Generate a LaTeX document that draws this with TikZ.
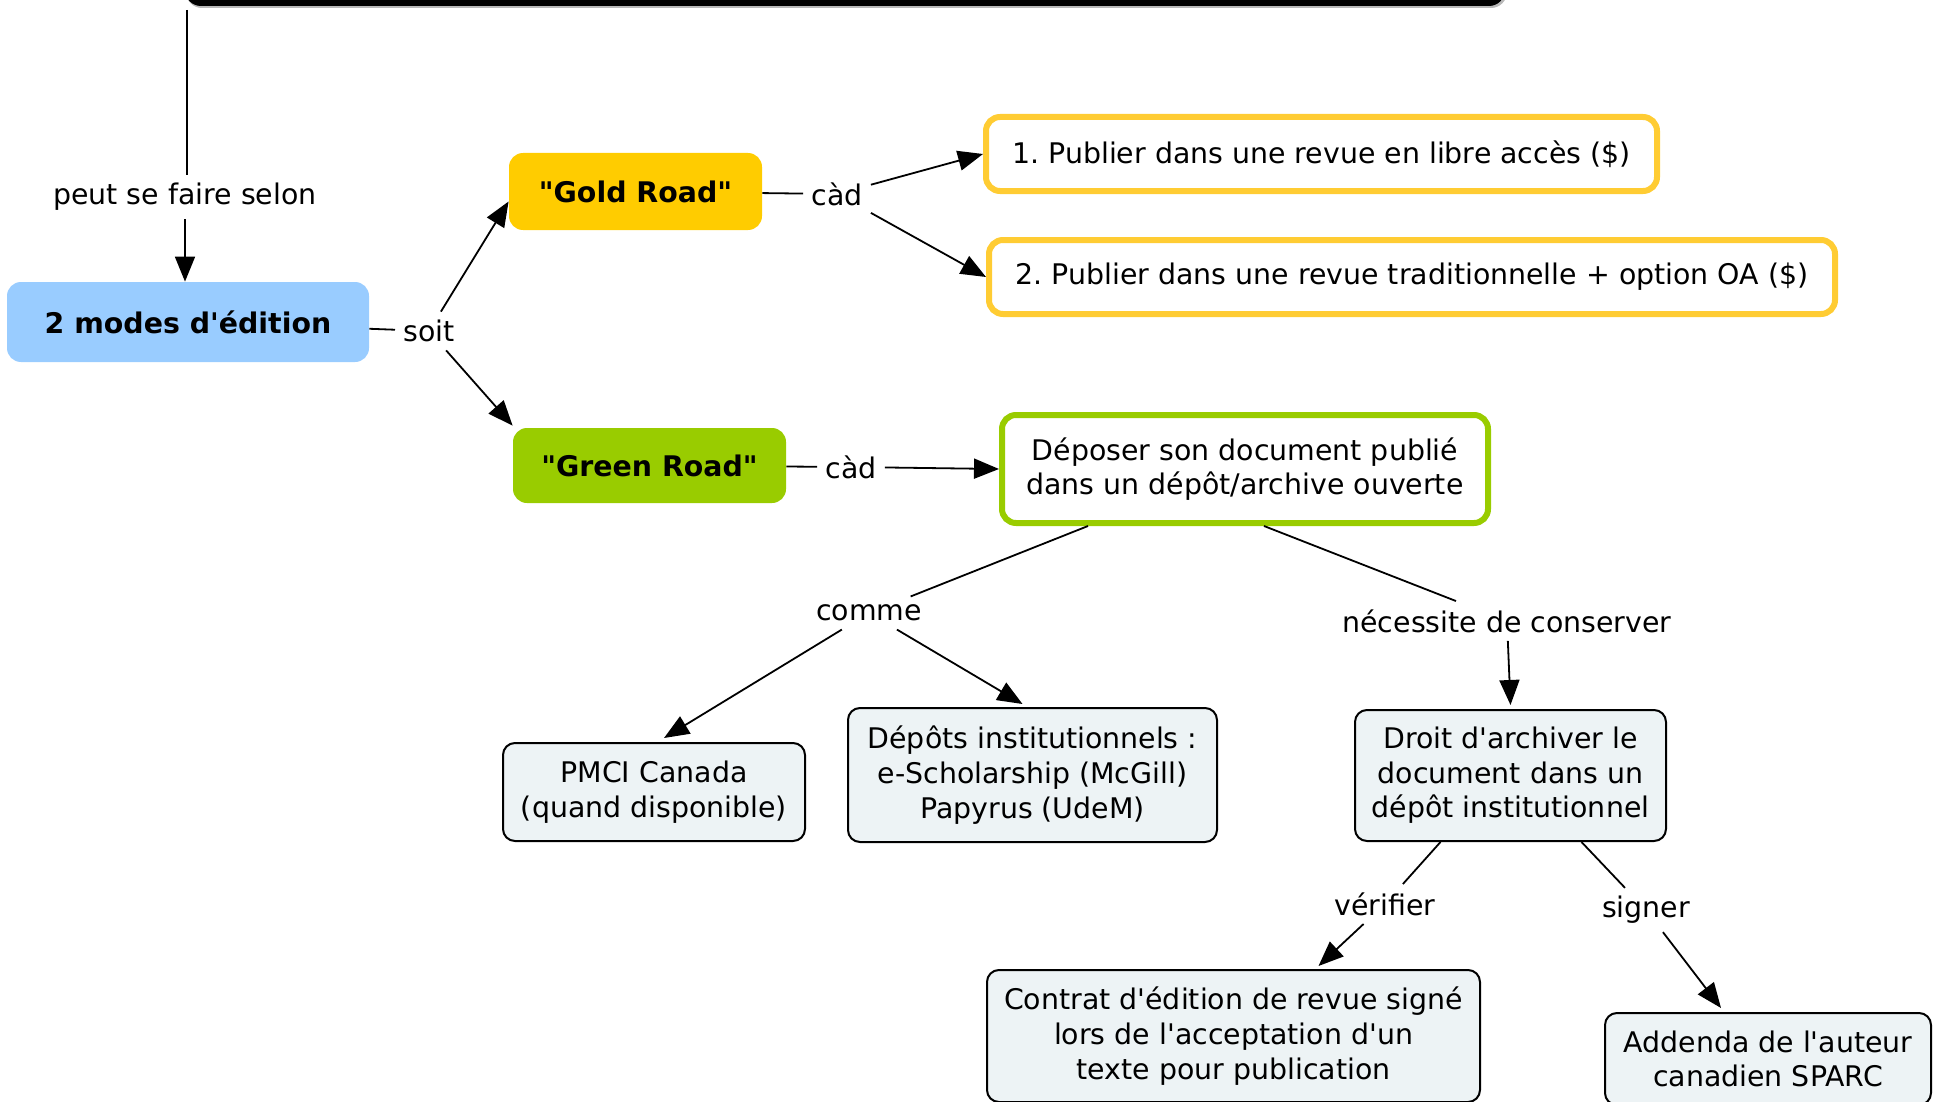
\documentclass[tikz,border=0pt]{standalone}
\usepackage{fontspec}
\setmainfont{DejaVu Sans}
\newfontfamily\cmapff{DejaVu Sans}
\usetikzlibrary{arrows.meta,calc}
\definecolor{modeblue}{RGB}{153,204,255}
\definecolor{goldfill}{RGB}{255,204,0}
\definecolor{goldline}{RGB}{255,204,51}
\definecolor{greenfill}{RGB}{153,204,0}
\definecolor{paleblue}{RGB}{237,243,245}
\newcommand\cmapfont{\cmapff\frenchspacing\fontsize{14.2pt}{17.3pt}\selectfont}
\tikzset{
  concept/.style={rounded corners=7pt, inner sep=0pt, align=center, font=\cmapfont},
  boldconcept/.style={concept, font=\cmapfont\bfseries},
  goldbox/.style={concept, draw=goldline, line width=3pt, fill=white},
  greenbox/.style={concept, draw=greenfill, line width=3pt, fill=white},
  palebox/.style={concept, rounded corners=6pt, draw=black, line width=1pt, fill=paleblue},
  linklabel/.style={fill=white, inner sep=4pt, font=\cmapfont},
  conn/.style={line width=0.9pt, draw=black},
  arr/.style={conn, -{Triangle[length=12.5pt,width=10pt]}}
}
\begin{document}
\begin{tikzpicture}[x=0.5pt,y=-0.5pt]
\clip (0,0) rectangle (1939,1102);
\useasboundingbox (0,0) rectangle (1939,1102);
% truncated top concept
\fill[gray!55, rounded corners=8pt] (186,-100) rectangle (1507,8);
\node[fill=black, rounded corners=8pt, inner sep=0pt, minimum width=660pt, minimum height=52pt] (top) at (845,-46) {};
\coordinate (topend) at (187,10);
% concepts
\node[boldconcept, fill=modeblue, minimum width=181pt, minimum height=40pt] (modes) at (188,322) {2 modes d'édition};
\node[boldconcept, fill=goldfill, minimum width=126.5pt, minimum height=38.5pt] (gold) at (635.5,191.5) {"Gold Road"};
\node[boldconcept, fill=greenfill, minimum width=136.5pt, minimum height=37.5pt] (green) at (649.5,465.5) {"Green Road"};
\node[goldbox, minimum width=335.5pt, minimum height=37pt] (box1) at (1321.5,154) {1. Publier dans une revue en libre accès (\$)};
\node[goldbox, minimum width=423pt, minimum height=37pt] (box2) at (1412,277) {2. Publier dans une revue traditionnelle + option OA (\$)};
\node[greenbox, minimum width=243pt, minimum height=54pt] (deposer) at (1245,469) {Déposer son document publié\\dans un dépôt/archive ouverte};
\node[palebox, minimum width=151pt, minimum height=49pt] (pmci) at (654,792) {PMCI Canada\\(quand disponible)};
\node[palebox, minimum width=184.5pt, minimum height=67pt] (depots) at (1032.5,775) {Dépôts institutionnels :\\e-Scholarship (McGill)\\Papyrus (UdeM)};
\node[palebox, minimum width=155.5pt, minimum height=65.5pt] (droit) at (1510.5,775.5) {Droit d'archiver le\\document dans un\\dépôt institutionnel};
\node[palebox, minimum width=246.5pt, minimum height=66pt] (contrat) at (1233.5,1036) {Contrat d'édition de revue signé\\lors de l'acceptation d'un\\texte pour publication};
\node[palebox, minimum width=163pt, minimum height=46pt] (addenda) at (1768,1059) {Addenda de l'auteur\\canadien SPARC};
% link labels
\node[linklabel] (peut) at (185,197) {peut se faire selon};
\node[linklabel] (soit) at (429,331) {soit};
\node[linklabel] (cad1) at (837,194) {càd};
\node[linklabel] (cad2) at (851,467) {càd};
\node[linklabel] (comme) at (869,613) {comme};
\node[linklabel] (necessite) at (1507,621) {nécessite de conserver};
\node[linklabel] (verifier) at (1385,904) {vérifier};
\node[linklabel] (signer) at (1646,910) {signer};
% connectors
\draw[conn] (topend) -- (topend |- peut.north);
\draw[arr] (peut) -- (peut.south |- modes.north);
\draw[conn] (modes) -- (soit);
\draw[arr] (soit) -- ($(gold.west)+(0,10)$);
\draw[arr] (soit) -- ($(green.north west)+(0,-2)$);
\draw[conn] (gold) -- (cad1);
\draw[arr] (cad1) -- (box1.west);
\draw[arr] (cad1) -- (box2.west);
\draw[conn] (green) -- (cad2);
\draw[arr] (cad2) -- (deposer.west);
\draw[conn] ($(deposer.south)+(-157,0)$) -- (comme);
\draw[arr] (comme) -- ($(pmci.north)+(10,-4)$);
\draw[arr] (comme) -- ($(depots.north)+(-10,-3)$);
\draw[conn] ($(deposer.south)+(19,0)$) -- (necessite);
\draw[arr] (necessite) -- ($(droit.north)+(0,-4)$);
\draw[conn] ($(droit.south)+(-70,0)$) -- (verifier);
\draw[arr] (verifier) -- ($(contrat.north)+(85,-3)$);
\draw[conn] ($(droit.south)+(71,0)$) -- (signer);
\draw[arr] (signer) -- ($(addenda.north)+(-47,-4)$);
\end{tikzpicture}
\end{document}
